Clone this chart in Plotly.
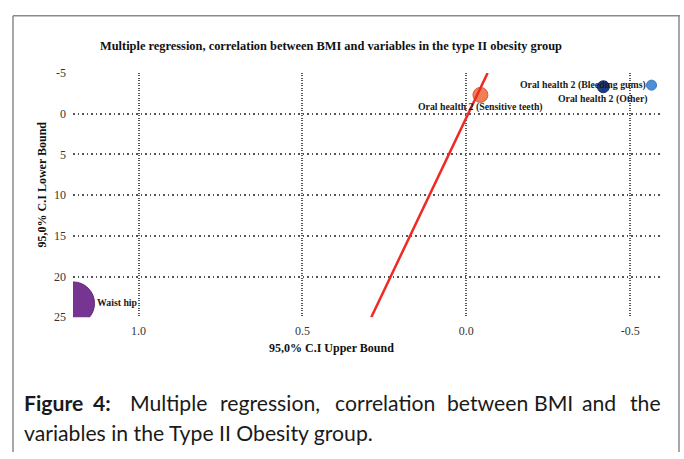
import plotly.graph_objects as go

# ---- data ----
point_labels = ["Waist hip", "Oral health 2 (Sensitive teeth)",
                "Oral health 2 (Bleeding gums)", "Oral health 2 (Other)"]
upper_bound = [1.2, -0.043, -0.565, -0.418]
lower_bound = [23.3, -2.3, -3.5, -3.3]
trend_upper = [0.29, -0.065]
trend_lower = [25, -5]
x_ticks = [1.0, 0.5, 0.0, -0.5]
x_tick_text = ["1.0", "0.5", "0.0", "-0.5"]
y_ticks = [-5, 0, 5, 10, 15, 20, 25]
y_tick_text = ["-5", "0", "5", "10", "15", "20", "25"]

# ---- styles ----
marker_sizes = [43, 15, 10, 12]
marker_colors = ["#763493", "#F07F55", "#4A8FD8", "#1C3A82"]
marker_lines = ["#5E2478", "#C8643E", "#3A78BE", "#142E68"]
# (xanchor, xshift, yshift) for each point label
label_place = [("left", 23, 1), ("center", 0, -12), ("right", -5, 0), ("center", 0, -12)]

W, H = 684, 459
serif = '"Liberation Serif"'

fig = go.Figure()

# markers
fig.add_trace(go.Scatter(
    x=upper_bound, y=lower_bound, mode="markers",
    marker=dict(size=marker_sizes, color=marker_colors, opacity=1,
                line=dict(color=marker_lines, width=1)),
    hoverinfo="skip", showlegend=False))

# trend line
fig.add_trace(go.Scatter(
    x=trend_upper, y=trend_lower, mode="lines",
    line=dict(color="#EE2A24", width=2.5),
    hoverinfo="skip", showlegend=False))

def px(v):
    return v / W

def py(v):
    return 1 - v / H

annotations = []
for lab, xv, yv, (anc, xs, ys) in zip(point_labels, upper_bound, lower_bound, label_place):
    annotations.append(dict(
        text=lab, x=xv, y=yv, xref="x", yref="y", showarrow=False,
        xanchor=anc, yanchor="middle", xshift=xs, yshift=ys, borderpad=0,
        font=dict(family=serif, size=9.8, color="#1a1a1a", weight="bold")))

annotations.append(dict(
    text="Multiple regression, correlation between BMI and variables in the type II obesity group",
    x=px(331), y=py(40), xref="paper", yref="paper", showarrow=False,
    xanchor="center", yanchor="middle",
    font=dict(family=serif, size=12.4, color="#111", weight="bold")))
annotations.append(dict(
    text="95,0% C.I Upper Bound", x=px(331), y=py(352), xref="paper", yref="paper",
    showarrow=False, xanchor="center", yanchor="middle",
    font=dict(family=serif, size=12, color="#111", weight="bold")))
annotations.append(dict(
    text="95,0% C.I Lower Bound", x=px(42), y=py(183), xref="paper", yref="paper",
    showarrow=False, xanchor="center", yanchor="middle", textangle=-90,
    font=dict(family=serif, size=12, color="#111", weight="bold")))

cap_font = "Lato"
cap_size = 21.2
line1 = [("<b>Figure</b>", 22, "left"), ("<b>4:</b>", 101.5, "center"),
         ("Multiple", 168, "center"), ("regression,", 269.5, "center"),
         ("correlation", 384.5, "center"), ("between", 487, "center"),
         ("BMI", 553.5, "center"), ("and", 598.5, "center"), ("the", 663, "right")]
for word, xx, anc in line1:
    annotations.append(dict(
        text=word, x=px(xx), y=py(408), xref="paper", yref="paper", showarrow=False,
        xanchor=anc, yanchor="middle",
        font=dict(family=cap_font, size=cap_size, color="#1a1a1a")))
annotations.append(dict(
    text="variables in the Type II Obesity group.", x=px(22), y=py(439),
    xref="paper", yref="paper", showarrow=False, xanchor="left", yanchor="middle",
    font=dict(family=cap_font, size=cap_size, color="#1a1a1a")))

frame_col = "#8a8a8a"
shapes = [
    dict(type="line", xref="paper", yref="paper", x0=px(13), x1=px(680), y0=py(9), y1=py(9),
         line=dict(color=frame_col, width=1.5)),
    dict(type="line", xref="paper", yref="paper", x0=px(13), x1=px(13), y0=py(9), y1=0,
         line=dict(color=frame_col, width=1.5)),
    dict(type="line", xref="paper", yref="paper", x0=px(679), x1=px(679), y0=py(9), y1=0,
         line=dict(color=frame_col, width=1.5)),
]

fig.update_layout(
    width=W, height=H, margin=dict(l=0, r=0, t=0, b=0),
    paper_bgcolor="white", plot_bgcolor="white",
    annotations=annotations, shapes=shapes,
    xaxis=dict(domain=[px(73), px(663)], range=[1.2, -0.6],
               tickvals=x_ticks, ticktext=x_tick_text,
               showgrid=True, gridcolor="#555", gridwidth=2, griddash="1px,1.5px",
               zeroline=False, showline=False, ticks="", ticklabelstandoff=5,
               tickfont=dict(family=serif, size=12, color="#333")),
    yaxis=dict(domain=[py(320), py(68)], range=[25, -5],
               tickvals=y_ticks, ticktext=y_tick_text,
               showgrid=True, gridcolor="#555", gridwidth=1.5,
               griddash="1.5px,3px", zeroline=False, showline=False, ticks="",
               ticklabelstandoff=6,
               tickfont=dict(family=serif, size=12, color="#333")),
)

fig.write_html("out.html")
